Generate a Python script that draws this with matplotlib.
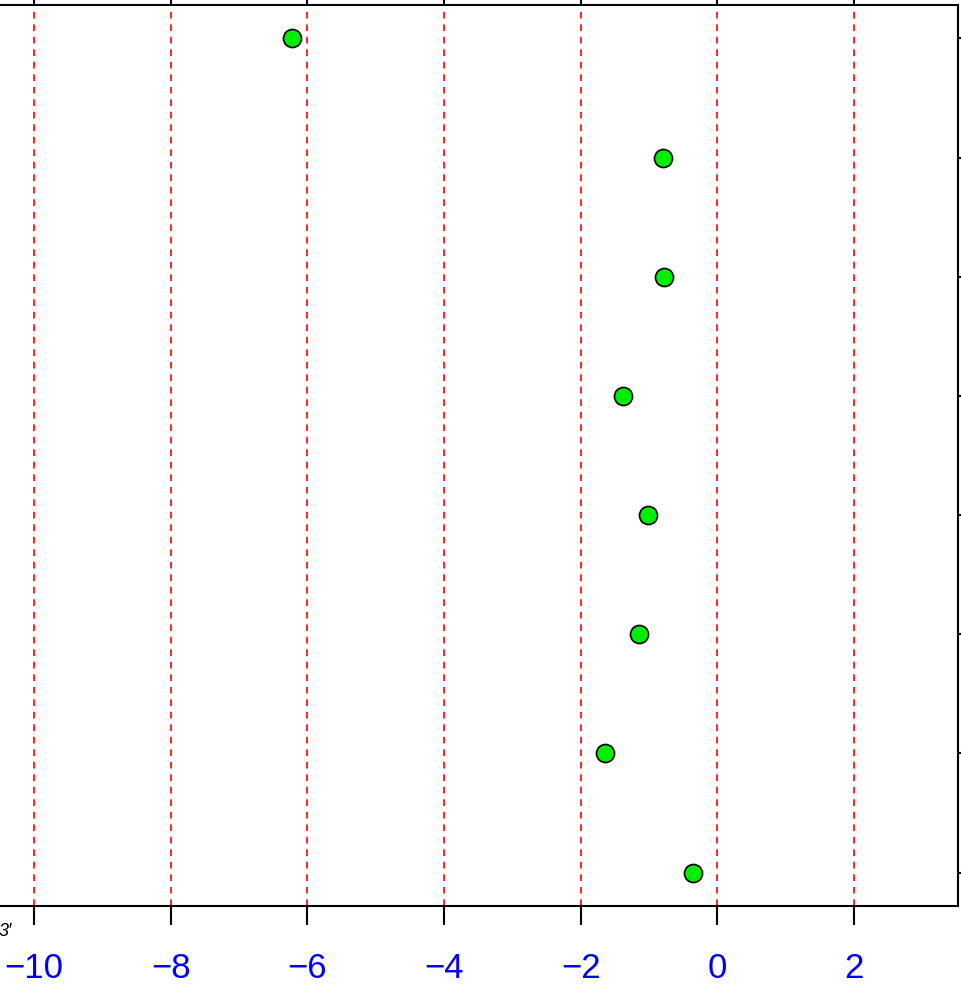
import matplotlib.pyplot as plt

plt.rcParams['font.family'] = ['Liberation Sans', 'DejaVu Sans']

# data
positions = [8, 7, 6, 5, 4, 3, 2, 1]
values = [-6.23, -0.80, -0.78, -1.38, -1.02, -1.14, -1.64, -0.35]
x_ticks = [-10, -8, -6, -4, -2, 0, 2]
x_labels = ['\u221210', '\u22128', '\u22126', '\u22124', '\u22122', '0', '2']

W, H = 961, 986
fig = plt.figure(figsize=(W / 100, H / 100), dpi=100)

# plot box in pixels (left edge is cut off in the reference)
left_px, right_px, top_px, bottom_px = -10, 958, 5, 906
ax = fig.add_axes([left_px / W, 1 - bottom_px / H,
                   (right_px - left_px) / W, (bottom_px - top_px) / H])

scale = (854 - 34) / 12.0
ax.set_xlim(-10 + (left_px - 34) / scale, 2 + (right_px - 854) / scale)
ax.set_ylim(0.72, 8.28)

# vertical reference lines
for xv in x_ticks:
    ax.axvline(xv, color='red', lw=1.2, ls=(0, (4, 3.5)), zorder=1)

ax.plot(values, positions, 'o', ms=13, mfc='#00ee00', mec='black', mew=1.2,
        ls='none', zorder=3)

for s in ax.spines.values():
    s.set_linewidth(1.5)

ax.set_xticks(x_ticks)
ax.set_xticklabels(x_labels, color='blue', fontsize=25)
ax.tick_params(axis='x', direction='out', length=14, width=1.5, pad=19,
               top=True, labeltop=False)
ax.set_yticks(positions)
ax.tick_params(axis='y', direction='out', length=14, width=1.5,
               left=False, labelleft=False, right=True, labelright=False)

fig.text(12 / W, 1 - 932 / H, "3\u2032", fontsize=13, style='italic',
         ha='right', va='center')

fig.savefig('out.png', dpi=100)
plt.close()
